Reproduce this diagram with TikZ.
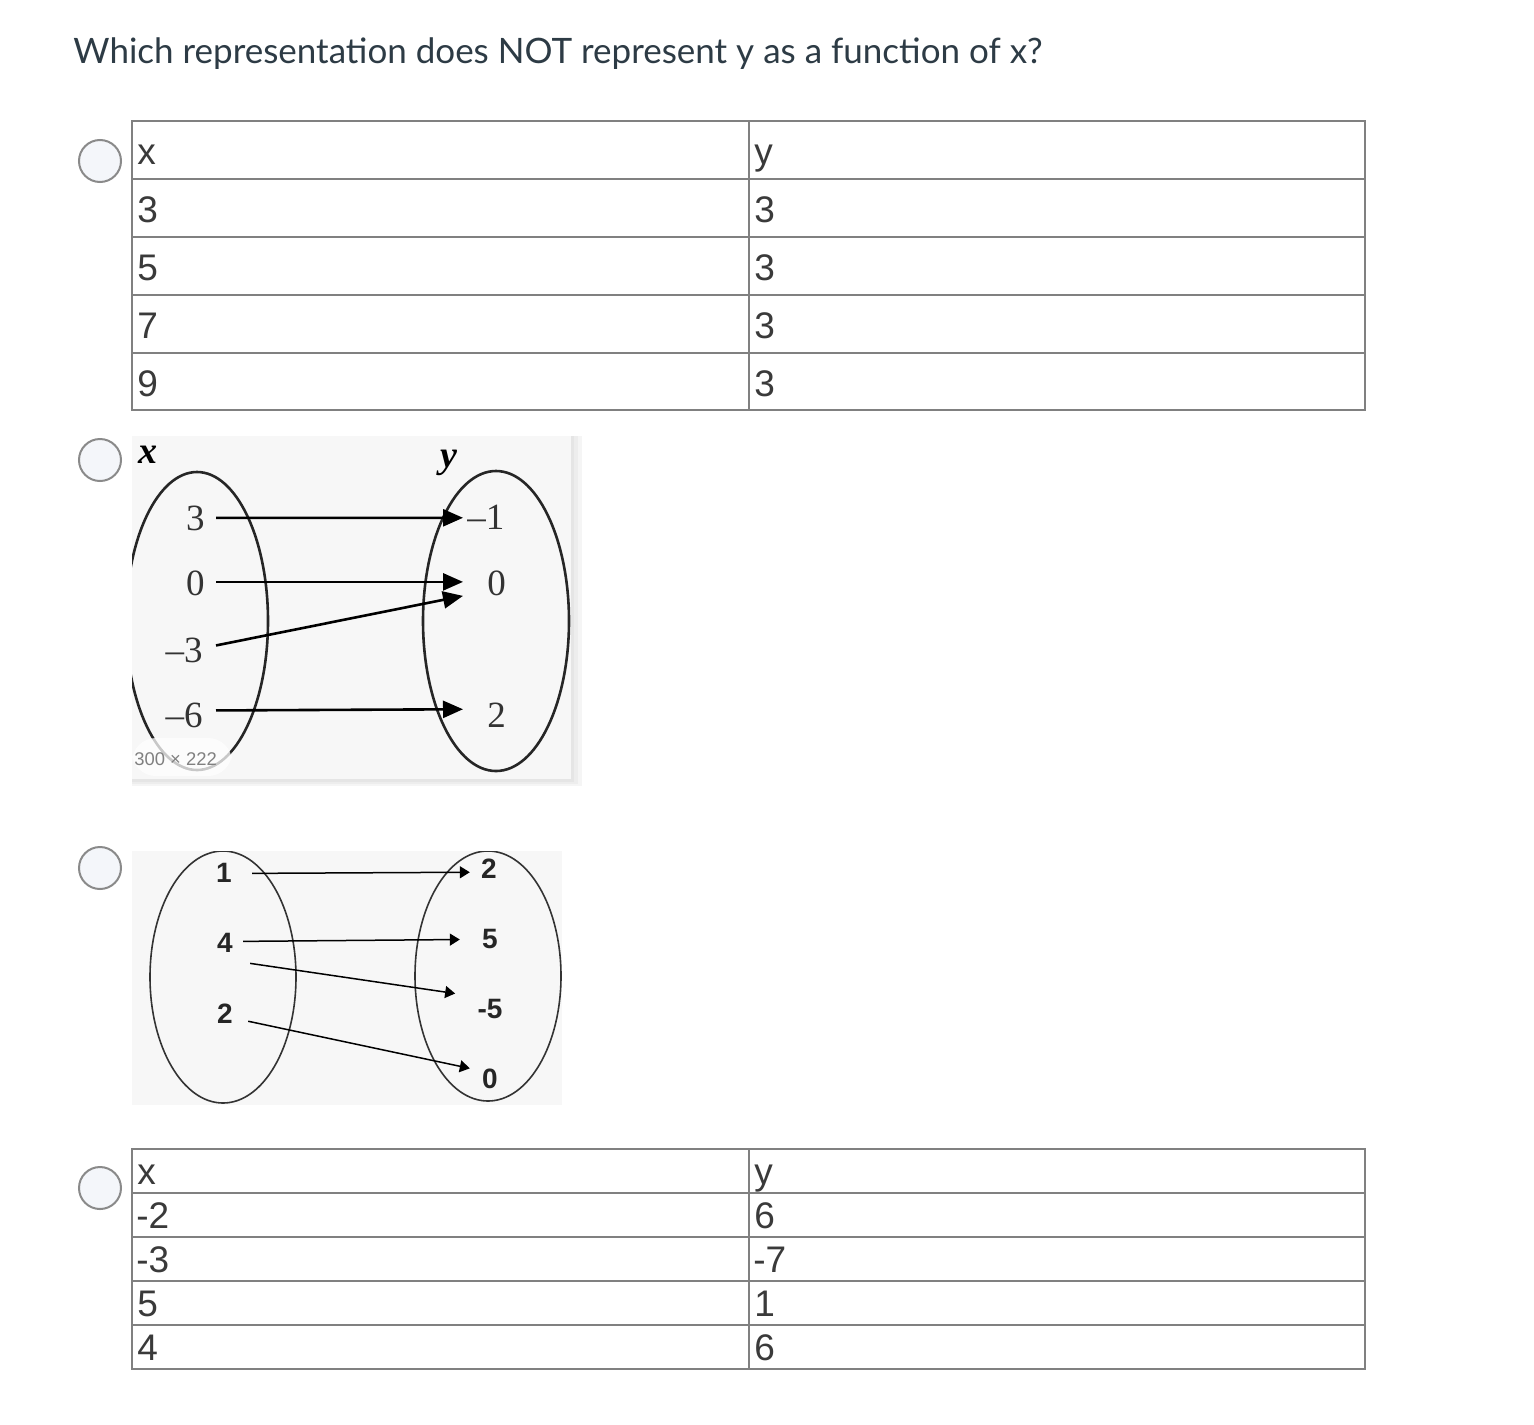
\documentclass[tikz,border=0pt]{standalone}
\usepackage{fontspec}
\setmainfont{Liberation Sans}
\newfontfamily\latofont{Lato}
\newfontfamily\timesfont{Liberation Serif}
\usetikzlibrary{calc,arrows.meta}
\definecolor{titlecol}{HTML}{2D3B45}
\definecolor{tabtext}{HTML}{3A3A3A}
\definecolor{tabline}{HTML}{808080}
\definecolor{radiofill}{HTML}{F4F6FA}
\definecolor{radioline}{HTML}{8A8A8A}
\definecolor{imgbg}{HTML}{F7F7F7}
\tikzset{
  tabcell/.style={anchor=base west, inner sep=0pt, text=tabtext, font=\fontsize{18.5pt}{20pt}\selectfont},
  tabrule/.style={draw=tabline, line width=1pt},
  radio/.style={circle, draw=radioline, fill=radiofill, line width=1pt, minimum size=21pt, inner sep=0pt},
  serlab/.style={inner sep=0pt, font=\timesfont\fontsize{18.5pt}{20pt}\selectfont, text=black!80},
  boldlab/.style={inner sep=0pt, font=\fontsize{14pt}{16pt}\selectfont\bfseries, text=black!85},
  bigarrow/.style={line width=1.3pt, -{Triangle[length=10pt,width=8.5pt]}},
  smallarrow/.style={line width=0.75pt, -{Triangle[length=5pt,width=6pt]}},
  ovalA/.style={draw=black!85, line width=1.3pt},
  ovalB/.style={draw=black!80, line width=0.8pt}
}
\begin{document}
\begin{tikzpicture}[x=0.5pt,y=-0.5pt]
\useasboundingbox[fill=white] (0,0) rectangle (1534,1424);

% title
\node[anchor=base west, inner sep=0pt, text=titlecol, font=\latofont\fontsize{17.5pt}{20pt}\selectfont] (title) at (73,63) {Which representation does NOT represent y as a function of x?};

% radio buttons
\node[radio] (rA) at (100,161) {};
\node[radio] (rB) at (100,460) {};
\node[radio] (rC) at (100,868) {};
\node[radio] (rD) at (100,1188) {};

% ---------- Table 1 ----------
\draw[tabrule] (132,121) rectangle (1365,410);
\foreach \yy in {179,237,295,353} \draw[tabrule] (132,\yy) -- (1365,\yy);
\draw[tabrule] (749,121) -- (749,410);
\node[tabcell] (t1x) at (137,164) {x};
\node[tabcell] (t1y) at (754,164) {y};
\node[tabcell] (t1a) at (137,222) {3};
\node[tabcell] (t1b) at (137,280) {5};
\node[tabcell] (t1c) at (137,338) {7};
\node[tabcell] (t1d) at (137,396) {9};
\node[tabcell] (t1e) at (754,222) {3};
\node[tabcell] (t1f) at (754,280) {3};
\node[tabcell] (t1g) at (754,338) {3};
\node[tabcell] (t1h) at (754,396) {3};

% ---------- Mapping diagram 2 ----------
\fill[black!4] (132,436) rectangle (582,786);
\fill[black!7] (132,436) rectangle (578,784);
\fill[black!10] (132,436) rectangle (574,782);
\fill[imgbg] (132,436) rectangle (571,779);
\begin{scope}
\clip (132,436) rectangle (571,779);
\draw[ovalA] (197,621) ellipse [x radius=71, y radius=149];
\draw[ovalA] (496,621) ellipse [x radius=73, y radius=150];
\end{scope}
\node[anchor=base west, inner sep=0pt, font=\timesfont\fontsize{19pt}{20pt}\selectfont\bfseries\itshape] (vx) at (138,463) {x};
\node[anchor=base west, inner sep=0pt, font=\timesfont\fontsize{19pt}{20pt}\selectfont\bfseries\itshape] (vy) at (440,467) {y};
\node[serlab, anchor=base east] (a3) at (205,530) {3};
\node[serlab, anchor=base east] (a0) at (205,595) {0};
\node[serlab, anchor=base east] (am3) at (203,662) {\textendash 3};
\node[serlab, anchor=base east] (am6) at (203,727) {\textendash 6};
\node[serlab, anchor=base west] (bm1) at (467,529) {\textendash 1};
\node[serlab, anchor=base west] (b0) at (487,595) {0};
\node[serlab, anchor=base west] (b2) at (487,727) {2};
\draw[bigarrow] ($(a3.east)+(11,0)$) -- ($(bm1.west)+(-4,1)$);
\draw[bigarrow] ($(a0.east)+(11,-1)$) -- ($(b0.west)+(-24,-1)$);
\draw[bigarrow] ($(am3.east)+(13,-4.5)$) -- ($(b0.west)+(-24,13)$);
\draw[bigarrow] ($(am6.east)+(13,-4.5)$) -- ($(b2.west)+(-24,-5.5)$);
% size tooltip
\fill[white, opacity=0.75, rounded corners=12pt] (132,738) rectangle (232,776);
\node[anchor=base west, inner sep=0pt, text=black!50, font=\fontsize{9.2pt}{10pt}\selectfont] (sz) at (134,765) {300 × 222};

% ---------- Mapping diagram 3 ----------
\fill[imgbg] (132,851) rectangle (562,1105);
\begin{scope}
\clip (132,851) rectangle (562,1105);
\draw[ovalB] (223,977) ellipse [x radius=73, y radius=126];
\draw[ovalB] (488,976) ellipse [x radius=73, y radius=125];
\end{scope}
\node[boldlab, anchor=base] (c1) at (224,882) {1};
\node[boldlab, anchor=base] (c4) at (225,952) {4};
\node[boldlab, anchor=base] (c2) at (225,1023) {2};
\node[boldlab, anchor=base] (d2) at (489,878) {2};
\node[boldlab, anchor=base] (d5) at (490,948) {5};
\node[boldlab, anchor=base] (dm5) at (490,1018) {-5};
\node[boldlab, anchor=base] (d0) at (490,1088) {0};
\draw[smallarrow] ($(c1.east)+(20,1)$) -- ($(d2.west)+(-11,4)$);
\draw[smallarrow] ($(c4.east)+(10,-1)$) -- ($(d5.west)+(-22,1)$);
\draw[smallarrow] ($(c4.east)+(17,21)$) -- ($(dm5.west)+(-22,-15)$);
\draw[smallarrow] ($(c2.east)+(15,8)$) -- ($(d0.west)+(-12,-10)$);

% ---------- Table 4 ----------
\draw[tabrule] (132,1149) rectangle (1365,1369);
\foreach \yy in {1193,1237,1281,1325} \draw[tabrule] (132,\yy) -- (1365,\yy);
\draw[tabrule] (749,1149) -- (749,1369);
\node[tabcell] (t4x) at (137,1184) {x};
\node[tabcell] (t4y) at (754,1184) {y};
\node[tabcell] (t4a) at (136,1228) {-2};
\node[tabcell] (t4b) at (136,1272) {-3};
\node[tabcell] (t4c) at (137,1316) {5};
\node[tabcell] (t4d) at (137,1360) {4};
\node[tabcell] (t4e) at (754,1228) {6};
\node[tabcell] (t4f) at (753,1272) {-7};
\node[tabcell] (t4g) at (754,1316) {1};
\node[tabcell] (t4h) at (754,1360) {6};
\end{tikzpicture}
\end{document}
